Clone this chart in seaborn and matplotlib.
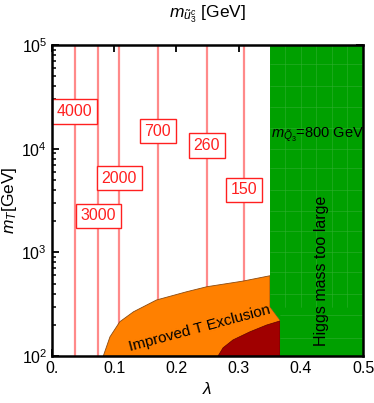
import numpy as np
import pandas as pd
import matplotlib.pyplot as plt
import seaborn as sns

# contour lines of m_u3c (vertical in lambda)
contour_lam = [0.0365, 0.0745, 0.108, 0.170, 0.249, 0.309]
contour_lab = ["4000", "3000", "2000", "700", "260", "150"]
label_mT = [22700, 2250, 5200, 14800, 10800, 4000]

# improved T exclusion boundary (orange)
excl_lam = [0.0825, 0.0932, 0.109, 0.131, 0.168, 0.2166, 0.249, 0.307, 0.3505]
excl_mT = [100, 153, 214, 267, 347, 417, 466, 528, 595]

# dark red region boundary
dark_lam = [0.267, 0.275, 0.291, 0.318, 0.345, 0.3666]
dark_mT = [100, 120, 143, 171, 199, 218]

# higgs mass too large region edge (green)
green_lam = [0.3505, 0.3505, 0.3666, 0.3666]
green_mT = [1e5, 299, 222, 100]

sns.set_style("ticks")
plt.rcParams['font.family'] = ['Liberation Sans', 'DejaVu Sans']
plt.rcParams['mathtext.fontset'] = 'custom'
plt.rcParams['mathtext.it'] = 'Liberation Sans:italic'
plt.rcParams['mathtext.rm'] = 'Liberation Sans'
plt.rcParams['text.color'] = 'black'
plt.rcParams['axes.labelcolor'] = 'black'
plt.rcParams['xtick.color'] = 'black'
plt.rcParams['ytick.color'] = 'black'
plt.rcParams['axes.edgecolor'] = 'black'

fig = plt.figure(figsize=(3.74, 4.03), dpi=100)
ax = fig.add_axes([0.139, 0.1166, 0.8316, 0.7717])
ax.set_yscale('log')

# contour lines
for lam in contour_lam:
    df = pd.DataFrame({'x': [lam, lam], 'y': [100, 1e5]})
    sns.lineplot(data=df, x='x', y='y', ax=ax, color='#ff8a8a', lw=1.6, zorder=1,
                 estimator=None, sort=False, errorbar=None)

# orange region
ox = excl_lam + [0.3505, 0.3666, 0.3666]
oy = excl_mT + [299, 222, 100]
ax.fill(ox, oy, color='#ff8000', lw=0.6, ec='#8a4a10', zorder=2)

# dark red region
dx = dark_lam + [0.3666]
dy = dark_mT + [100]
ax.fill(dx, dy, color='#a00000', lw=0.5, ec='#600000', zorder=3)

# green region
gx = green_lam + [0.5, 0.5]
gy = green_mT + [100, 1e5]
ax.fill(gx, gy, color='#00a000', lw=0, zorder=4)
# faint mesh in green
for xm in np.arange(0.375, 0.5, 0.025):
    ax.plot([xm, xm], [300, 1e5], color='#30b030', lw=0.4, zorder=4.5)
for ym in [150, 250, 400, 650, 1000, 1600, 2500, 4000, 6500, 10000, 16000, 25000, 40000, 65000]:
    ax.plot([0.3666 if ym < 300 else 0.3505, 0.5], [ym, ym], color='#30b030', lw=0.4, zorder=4.5)

# contour labels
for lam, lab, yv in zip(contour_lam, contour_lab, label_mT):
    ax.text(lam, yv, lab, color='#ff2020', fontsize=11.5, ha='center', va='center', zorder=6,
            bbox=dict(boxstyle='square,pad=0.3', fc='white', ec='#ff2020', lw=1))

ax.text(0.238, 186, "Improved T Exclusion", rotation=15, fontsize=11, ha='center', va='center', zorder=6)
ax.text(0.427, 13500, r"$m_{\tilde{Q}_3}$=800 GeV", fontsize=10.5, ha='center', va='center', zorder=6)
ax.text(0.434, 660, "Higgs mass too large", rotation=90, fontsize=11.5, ha='center', va='center', zorder=6)

ax.set_xlim(0, 0.5)
ax.set_ylim(100, 1e5)
ax.set_xticks([0, 0.1, 0.2, 0.3, 0.4, 0.5])
ax.set_xticklabels(["0.", "0.1", "0.2", "0.3", "0.4", "0.5"])
ax.tick_params(which='both', direction='in', top=True, right=True, labelsize=11.5)
ax.tick_params(which='major', length=5, width=1.3)
ax.tick_params(which='minor', length=3, width=1.1)
for s in ax.spines.values():
    s.set_linewidth(1.8)
    s.set_zorder(10)

ax.set_xlabel(r"$\lambda$", fontsize=12.5)
ax.set_ylabel(r"$m_T$[GeV]", fontsize=12.5, labelpad=2)
ax.set_title(r"$m_{\tilde{u}_3^c}$ [GeV]", fontsize=12.5, pad=20)

plt.savefig("out.png", dpi=100)
